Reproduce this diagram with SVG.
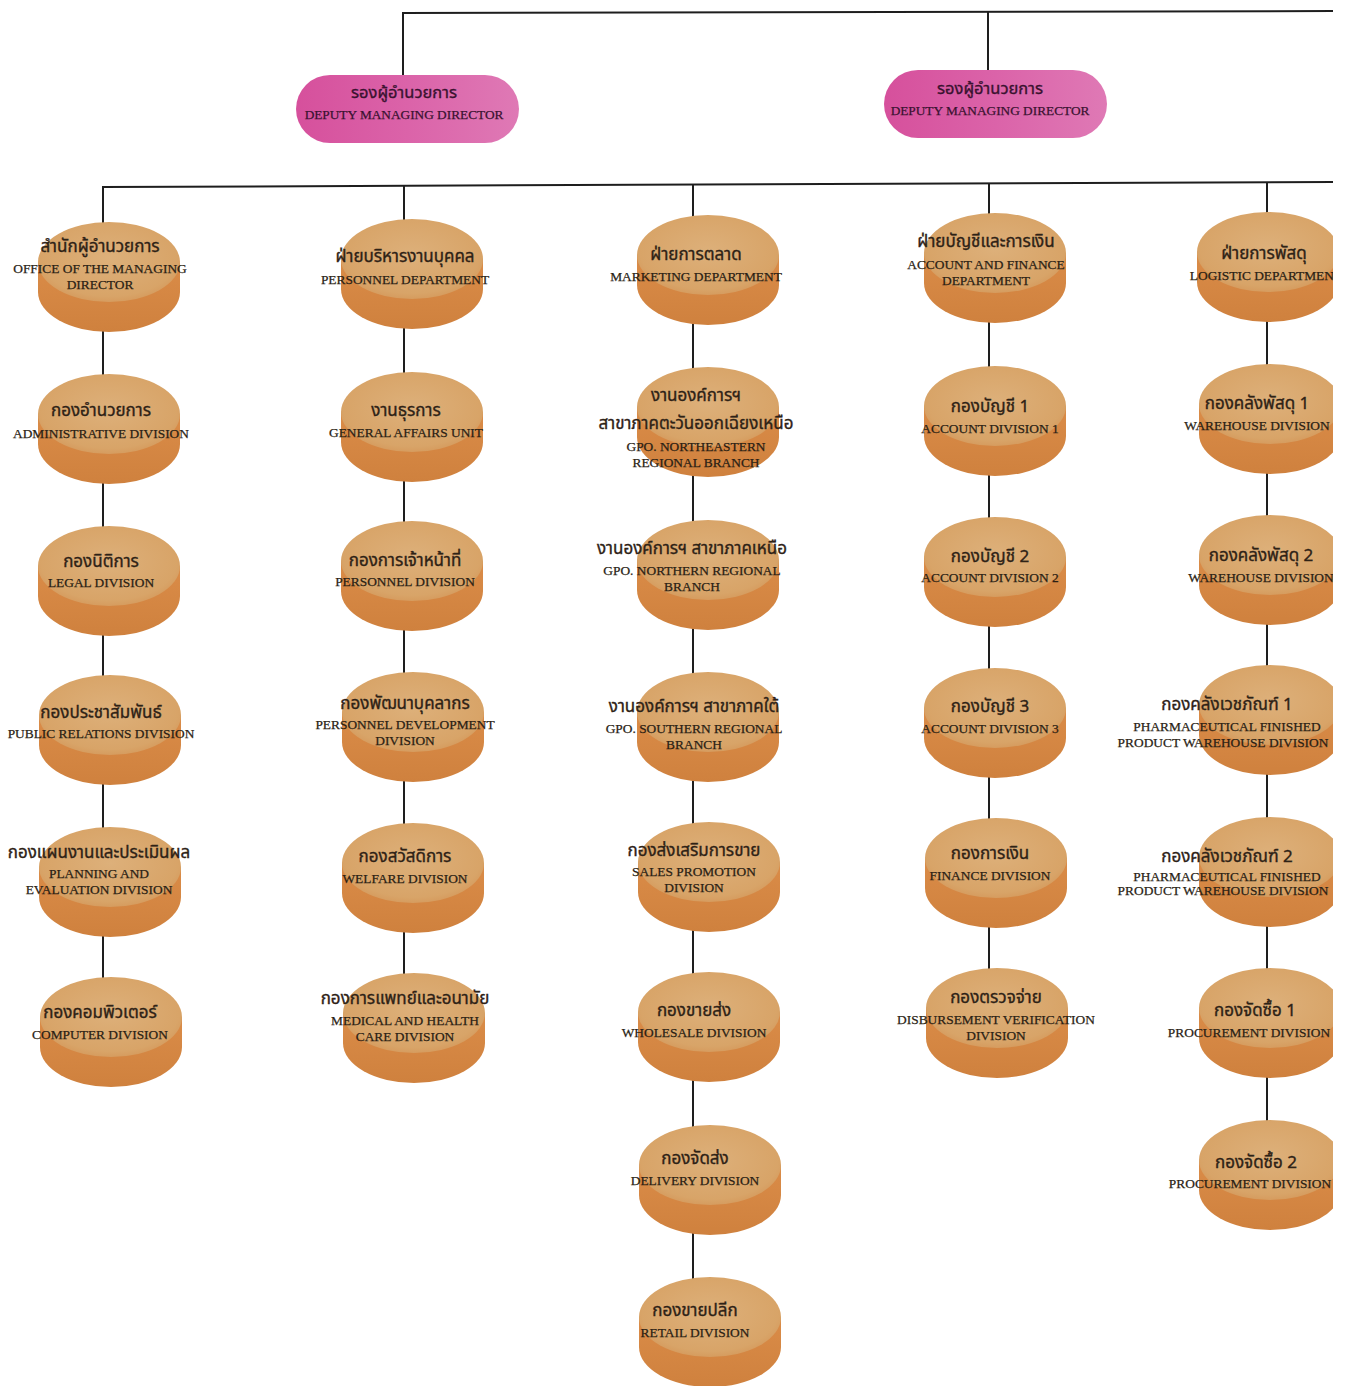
<svg xmlns="http://www.w3.org/2000/svg" xmlns:xlink="http://www.w3.org/1999/xlink" width="1348" height="1386" viewBox="0 0 1348 1386">
<style>
.th{font-family:"Noto Sans Thai","Noto Serif Thai","Loma","Garuda","Liberation Serif",sans-serif;font-size:17px;fill:#2e2216;stroke:#2e2216;stroke-width:0.35;text-anchor:middle}
.en{font-family:"Liberation Serif","Times New Roman",serif;font-size:13.4px;fill:#2a1e14;stroke:#2a1e14;stroke-width:0.25;text-anchor:middle}
.pth{font-family:"Noto Sans Thai","Noto Serif Thai","Loma","Garuda","Liberation Serif",sans-serif;font-size:16.5px;fill:#3a1230;stroke:#3a1230;stroke-width:0.35;text-anchor:middle}
.pen{font-family:"Liberation Serif","Times New Roman",serif;font-size:13.3px;fill:#3a1230;stroke:#3a1230;stroke-width:0.25;text-anchor:middle}
.ln{stroke:#1e1e1e;stroke-width:2;fill:none}
</style>
<defs>
<radialGradient id="topg" cx="0.5" cy="0.45" r="0.6">
<stop offset="0" stop-color="#ddb07a"/>
<stop offset="0.8" stop-color="#d8a468"/>
<stop offset="1" stop-color="#d49658"/>
</radialGradient>
<linearGradient id="sideg" x1="0" y1="0" x2="0" y2="1">
<stop offset="0" stop-color="#da8c48"/>
<stop offset="1" stop-color="#cf813e"/>
</linearGradient>
<linearGradient id="pillg" x1="0" y1="0" x2="1" y2="0">
<stop offset="0" stop-color="#d6509c"/>
<stop offset="0.5" stop-color="#db63a9"/>
<stop offset="1" stop-color="#df79b5"/>
</linearGradient>
<g id="disc">
<path d="M-71,-15 L-71,15 A71,40 0 0 0 71,15 L71,-15 Z" fill="url(#sideg)"/>
<ellipse cx="0" cy="-15" rx="71" ry="40" fill="url(#topg)"/>
</g>
<clipPath id="pg"><rect x="0" y="0" width="1333" height="1386"/></clipPath>
</defs>
<rect width="1348" height="1386" fill="#ffffff"/>
<g clip-path="url(#pg)">
<g id="connectors">
<line class="ln" x1="403" y1="13" x2="1334" y2="11"/>
<line class="ln" x1="403" y1="12" x2="403" y2="76"/>
<line class="ln" x1="988" y1="11" x2="988" y2="71"/>
<line class="ln" x1="102" y1="187" x2="1334" y2="182"/>
<line class="ln" x1="103" y1="186" x2="103" y2="980"/>
<line class="ln" x1="404" y1="185" x2="404" y2="976"/>
<line class="ln" x1="693" y1="184" x2="693" y2="1280"/>
<line class="ln" x1="989" y1="183" x2="989" y2="970"/>
<line class="ln" x1="1267" y1="182" x2="1267" y2="1122"/>
</g>

<g id="dmd1">
<rect x="296" y="75" width="223" height="68" rx="34" fill="url(#pillg)"/>
<text class="pth" x="404" y="98">รองผู้อำนวยการ</text>
<text class="pen" x="404" y="119">DEPUTY MANAGING DIRECTOR</text>
</g>
<g id="dmd2">
<rect x="884" y="70" width="223" height="68" rx="34" fill="url(#pillg)"/>
<text class="pth" x="990" y="94">รองผู้อำนวยการ</text>
<text class="pen" x="990" y="115">DEPUTY MANAGING DIRECTOR</text>
</g>

<!-- Column 1 -->
<g id="c1n1"><use xlink:href="#disc" x="109" y="277"/>
<text class="th" x="100" y="252">สำนักผู้อำนวยการ</text>
<text class="en" x="100" y="273">OFFICE OF THE MANAGING</text>
<text class="en" x="100" y="289">DIRECTOR</text></g>
<g id="c1n2"><use xlink:href="#disc" x="109" y="429"/>
<text class="th" x="101" y="416">กองอำนวยการ</text>
<text class="en" x="101" y="438">ADMINISTRATIVE DIVISION</text></g>
<g id="c1n3"><use xlink:href="#disc" x="109" y="581"/>
<text class="th" x="101" y="567">กองนิติการ</text>
<text class="en" x="101" y="587">LEGAL DIVISION</text></g>
<g id="c1n4"><use xlink:href="#disc" x="110" y="730"/>
<text class="th" x="101" y="718">กองประชาสัมพันธ์</text>
<text class="en" x="101" y="738">PUBLIC RELATIONS DIVISION</text></g>
<g id="c1n5"><use xlink:href="#disc" x="110" y="882"/>
<text class="th" x="99" y="858">กองแผนงานและประเมินผล</text>
<text class="en" x="99" y="878">PLANNING AND</text>
<text class="en" x="99" y="894">EVALUATION DIVISION</text></g>
<g id="c1n6"><use xlink:href="#disc" x="111" y="1032"/>
<text class="th" x="100" y="1018">กองคอมพิวเตอร์</text>
<text class="en" x="100" y="1039">COMPUTER DIVISION</text></g>

<!-- Column 2 -->
<g id="c2n1"><use xlink:href="#disc" x="412" y="274"/>
<text class="th" x="405" y="262">ฝ่ายบริหารงานบุคคล</text>
<text class="en" x="405" y="284">PERSONNEL DEPARTMENT</text></g>
<g id="c2n2"><use xlink:href="#disc" x="412" y="427"/>
<text class="th" x="406" y="416">งานธุรการ</text>
<text class="en" x="406" y="437">GENERAL AFFAIRS UNIT</text></g>
<g id="c2n3"><use xlink:href="#disc" x="412" y="576"/>
<text class="th" x="405" y="566">กองการเจ้าหน้าที่</text>
<text class="en" x="405" y="586">PERSONNEL DIVISION</text></g>
<g id="c2n4"><use xlink:href="#disc" x="413" y="727"/>
<text class="th" x="405" y="709">กองพัฒนาบุคลากร</text>
<text class="en" x="405" y="729">PERSONNEL DEVELOPMENT</text>
<text class="en" x="405" y="745">DIVISION</text></g>
<g id="c2n5"><use xlink:href="#disc" x="413" y="878"/>
<text class="th" x="405" y="862">กองสวัสดิการ</text>
<text class="en" x="405" y="883">WELFARE DIVISION</text></g>
<g id="c2n6"><use xlink:href="#disc" x="414" y="1028"/>
<text class="th" x="405" y="1004">กองการแพทย์และอนามัย</text>
<text class="en" x="405" y="1025">MEDICAL AND HEALTH</text>
<text class="en" x="405" y="1041">CARE DIVISION</text></g>

<!-- Column 3 -->
<g id="c3n1"><use xlink:href="#disc" x="708" y="270"/>
<text class="th" x="696" y="260">ฝ่ายการตลาด</text>
<text class="en" x="696" y="281">MARKETING DEPARTMENT</text></g>
<g id="c3n2"><use xlink:href="#disc" x="708" y="422"/>
<text class="th" x="696" y="401">งานองค์การฯ</text>
<text class="th" x="696" y="429">สาขาภาคตะวันออกเฉียงเหนือ</text>
<text class="en" x="696" y="451">GPO. NORTHEASTERN</text>
<text class="en" x="696" y="467">REGIONAL BRANCH</text></g>
<g id="c3n3"><use xlink:href="#disc" x="708" y="575"/>
<text class="th" x="692" y="554">งานองค์การฯ สาขาภาคเหนือ</text>
<text class="en" x="692" y="575">GPO. NORTHERN REGIONAL</text>
<text class="en" x="692" y="591">BRANCH</text></g>
<g id="c3n4"><use xlink:href="#disc" x="708" y="727"/>
<text class="th" x="694" y="712">งานองค์การฯ สาขาภาคใต้</text>
<text class="en" x="694" y="733">GPO. SOUTHERN REGIONAL</text>
<text class="en" x="694" y="749">BRANCH</text></g>
<g id="c3n5"><use xlink:href="#disc" x="709" y="877"/>
<text class="th" x="694" y="856">กองส่งเสริมการขาย</text>
<text class="en" x="694" y="876">SALES PROMOTION</text>
<text class="en" x="694" y="892">DIVISION</text></g>
<g id="c3n6"><use xlink:href="#disc" x="709" y="1027"/>
<text class="th" x="694" y="1016">กองขายส่ง</text>
<text class="en" x="694" y="1037">WHOLESALE DIVISION</text></g>
<g id="c3n7"><use xlink:href="#disc" x="710" y="1180"/>
<text class="th" x="695" y="1164">กองจัดส่ง</text>
<text class="en" x="695" y="1185">DELIVERY DIVISION</text></g>
<g id="c3n8"><use xlink:href="#disc" x="710" y="1332"/>
<text class="th" x="695" y="1316">กองขายปลีก</text>
<text class="en" x="695" y="1337">RETAIL DIVISION</text></g>

<!-- Column 4 -->
<g id="c4n1"><use xlink:href="#disc" x="995" y="268"/>
<text class="th" x="986" y="247">ฝ่ายบัญชีและการเงิน</text>
<text class="en" x="986" y="269">ACCOUNT AND FINANCE</text>
<text class="en" x="986" y="285">DEPARTMENT</text></g>
<g id="c4n2"><use xlink:href="#disc" x="995" y="421"/>
<text class="th" x="990" y="412">กองบัญชี 1</text>
<text class="en" x="990" y="433">ACCOUNT DIVISION 1</text></g>
<g id="c4n3"><use xlink:href="#disc" x="995" y="572"/>
<text class="th" x="990" y="562">กองบัญชี 2</text>
<text class="en" x="990" y="582">ACCOUNT DIVISION 2</text></g>
<g id="c4n4"><use xlink:href="#disc" x="995" y="723"/>
<text class="th" x="990" y="712">กองบัญชี 3</text>
<text class="en" x="990" y="733">ACCOUNT DIVISION 3</text></g>
<g id="c4n5"><use xlink:href="#disc" x="996" y="873"/>
<text class="th" x="990" y="859">กองการเงิน</text>
<text class="en" x="990" y="880">FINANCE DIVISION</text></g>
<g id="c4n6"><use xlink:href="#disc" x="997" y="1023"/>
<text class="th" x="996" y="1003">กองตรวจจ่าย</text>
<text class="en" x="996" y="1024">DISBURSEMENT VERIFICATION</text>
<text class="en" x="996" y="1040">DIVISION</text></g>

<!-- Column 5 -->
<g id="c5n1"><use xlink:href="#disc" x="1268" y="267"/>
<text class="th" x="1264" y="259">ฝ่ายการพัสดุ</text>
<text class="en" x="1266" y="280">LOGISTIC DEPARTMENT</text></g>
<g id="c5n2"><use xlink:href="#disc" x="1270" y="419"/>
<text class="th" x="1257" y="409">กองคลังพัสดุ 1</text>
<text class="en" x="1262" y="430">WAREHOUSE DIVISION 1</text></g>
<g id="c5n3"><use xlink:href="#disc" x="1270" y="570"/>
<text class="th" x="1261" y="561">กองคลังพัสดุ 2</text>
<text class="en" x="1266" y="582">WAREHOUSE DIVISION 2</text></g>
<g id="c5n4"><use xlink:href="#disc" x="1270" y="720"/>
<text class="th" x="1227" y="710">กองคลังเวชภัณฑ์ 1</text>
<text class="en" x="1227" y="731">PHARMACEUTICAL FINISHED</text>
<text class="en" x="1223" y="747">PRODUCT WAREHOUSE DIVISION</text></g>
<g id="c5n5"><use xlink:href="#disc" x="1270" y="872"/>
<text class="th" x="1227" y="862">กองคลังเวชภัณฑ์ 2</text>
<text class="en" x="1227" y="881">PHARMACEUTICAL FINISHED</text>
<text class="en" x="1223" y="895">PRODUCT WAREHOUSE DIVISION</text></g>
<g id="c5n6"><use xlink:href="#disc" x="1270" y="1023"/>
<text class="th" x="1255" y="1016">กองจัดซื้อ 1</text>
<text class="en" x="1249" y="1037">PROCUREMENT DIVISION</text></g>
<g id="c5n7"><use xlink:href="#disc" x="1270" y="1175"/>
<text class="th" x="1256" y="1168">กองจัดซื้อ 2</text>
<text class="en" x="1250" y="1188">PROCUREMENT DIVISION</text></g>
</g>
</svg>
